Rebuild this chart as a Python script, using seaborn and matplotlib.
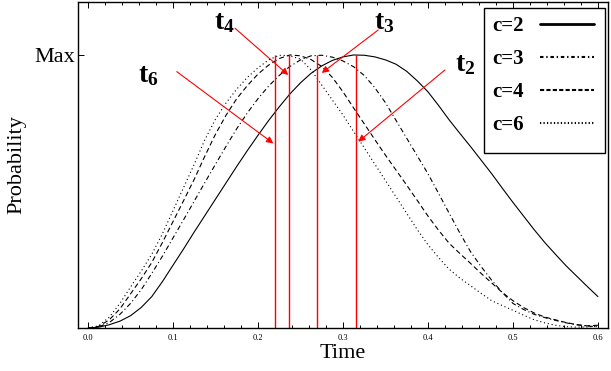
import matplotlib
matplotlib.use("Agg")
import matplotlib.pyplot as plt
from matplotlib.lines import Line2D
from matplotlib.patches import Rectangle
import seaborn as sns
import pandas as pd

# sampling times read along the axis
tempo = [0.0, 0.0125, 0.025, 0.0375, 0.05, 0.0625, 0.075, 0.0875, 0.1, 0.1125,
         0.125, 0.1375, 0.15, 0.1625, 0.175, 0.1875, 0.2, 0.2125, 0.225, 0.2375,
         0.25, 0.2625, 0.275, 0.2875, 0.3, 0.3125, 0.325, 0.3375, 0.35, 0.3625,
         0.375, 0.3875, 0.4, 0.4125, 0.425, 0.4375, 0.45, 0.4625, 0.475, 0.4875,
         0.5, 0.5125, 0.525, 0.5375, 0.55, 0.5625, 0.575, 0.5875, 0.6]

# probabilities (peak = 1 = "Max")
c2_p = [0, 0.003, 0.012, 0.025, 0.045, 0.075, 0.115, 0.17, 0.23, 0.29,
        0.352, 0.412, 0.472, 0.532, 0.592, 0.65, 0.706, 0.76, 0.81, 0.857,
        0.898, 0.933, 0.96, 0.98, 0.993, 1.0, 0.999, 0.993, 0.982, 0.966,
        0.94, 0.905, 0.865, 0.815, 0.762, 0.713, 0.665, 0.615, 0.565, 0.512,
        0.46, 0.41, 0.36, 0.313, 0.27, 0.228, 0.19, 0.152, 0.115]
c3_p = [0, 0.004, 0.02, 0.05, 0.09, 0.14, 0.2, 0.263, 0.33, 0.397,
        0.465, 0.533, 0.6, 0.666, 0.73, 0.788, 0.84, 0.886, 0.925, 0.958,
        0.982, 0.997, 0.999, 0.992, 0.978, 0.957, 0.925, 0.88, 0.825, 0.76,
        0.695, 0.63, 0.565, 0.493, 0.42, 0.348, 0.28, 0.225, 0.175, 0.13,
        0.09, 0.068, 0.05, 0.038, 0.028, 0.019, 0.012, 0.007, 0.005]
c4_p = [0, 0.006, 0.03, 0.07, 0.125, 0.18, 0.24, 0.313, 0.39, 0.467,
        0.545, 0.63, 0.71, 0.78, 0.84, 0.888, 0.93, 0.963, 0.987, 1.0,
        0.997, 0.983, 0.958, 0.918, 0.865, 0.806, 0.748, 0.69, 0.633, 0.578,
        0.523, 0.467, 0.41, 0.358, 0.31, 0.273, 0.237, 0.2, 0.165, 0.13,
        0.1, 0.075, 0.055, 0.04, 0.03, 0.02, 0.012, 0.008, 0.01]
c6_p = [0, 0.008, 0.04, 0.09, 0.15, 0.208, 0.27, 0.345, 0.43, 0.515,
        0.6, 0.69, 0.765, 0.825, 0.875, 0.918, 0.953, 0.982, 0.999, 0.997,
        0.985, 0.945, 0.89, 0.835, 0.78, 0.72, 0.66, 0.6, 0.54, 0.48,
        0.42, 0.36, 0.305, 0.258, 0.215, 0.183, 0.155, 0.127, 0.1, 0.082,
        0.065, 0.047, 0.03, 0.019, 0.01, 0.005, 0.003, 0.004, 0.006]

series_labels = ["c=2", "c=3", "c=4", "c=6"]

# times of the maxima (red lines)
peak_names = ["t_2", "t_3", "t_4", "t_6"]
peak_times = [0.3153, 0.2698, 0.2368, 0.2204]

sns.set_style("ticks")
plt.rcParams["font.family"] = ["Liberation Serif", "DejaVu Serif"]
plt.rcParams["mathtext.fontset"] = "custom"
plt.rcParams["mathtext.rm"] = "Liberation Serif"
plt.rcParams["mathtext.bf"] = "Liberation Serif:bold"
plt.rcParams["lines.scale_dashes"] = False
for k in ["text.color", "axes.labelcolor", "xtick.color", "ytick.color", "axes.edgecolor"]:
    plt.rcParams[k] = "black"

fig = plt.figure(figsize=(6.11, 3.71), dpi=100)
ax = fig.add_axes([0.1277, 0.1159, 0.8673, 0.8787])

estilos = {
    "c=2": "-",
    "c=3": (0, (3.5, 2.0, 0.8, 2.0)),
    "c=4": (0, (3.6, 2.2)),
    "c=6": (0, (0.8, 2.0)),
}
dados = {"c=2": c2_p, "c=3": c3_p, "c=4": c4_p, "c=6": c6_p}

for lab in series_labels:
    df = pd.DataFrame({"Time": tempo, "Prob": dados[lab]})
    sns.lineplot(data=df, x="Time", y="Prob", ax=ax, color="black", lw=0.8,
                 linestyle=estilos[lab], legend=False)

# vertical red lines at the maxima
ax.vlines(peak_times, 0, 1, color="red", lw=1.0)

# labels with arrows: (text pos, arrow start, arrow tip)
ann = {
    "t_6": ((0.0706, 0.925), (0.1044, 0.939), (0.2180, 0.676)),
    "t_4": ((0.160, 1.12), (0.1729, 1.098), (0.2356, 0.9267)),
    "t_3": ((0.349, 1.12), (0.3415, 1.0916), (0.2750, 0.9341)),
    "t_2": ((0.4435, 0.963), (0.4200, 0.9451), (0.3180, 0.6825)),
}
for nome, (txt, ini, fim) in ann.items():
    ax.annotate("", xy=fim, xytext=ini,
                arrowprops=dict(arrowstyle="-|>", color="red", lw=0.8,
                                mutation_scale=10, shrinkA=0, shrinkB=0))
    ax.text(txt[0], txt[1], r"$\mathbf{" + nome + "}$", fontsize=20,
            ha="center", va="center")

ax.set_xlim(-0.0118, 0.6118)
ax.set_ylim(0, 1.194)
ax.set_xticks([0.0, 0.1, 0.2, 0.3, 0.4, 0.5, 0.6])
ax.set_xticklabels(["0.0", "0.1", "0.2", "0.3", "0.4", "0.5", "0.6"], fontsize=6)
ax.set_xticks([i * 0.02 for i in range(31)], minor=True)
ax.set_yticks([1.0])
ax.set_yticklabels(["Max"], fontsize=16)
ax.tick_params(axis="both", which="both", direction="in", top=True, right=False,
               width=0.7, color="black")
ax.tick_params(axis="x", which="major", length=4, pad=4)
ax.tick_params(axis="x", which="minor", length=2)
ax.tick_params(axis="y", length=4, pad=2)
ax.set_xlabel("Time", fontsize=16, labelpad=2)
ax.set_ylabel("Probability", fontsize=16, labelpad=6)
for s in ax.spines.values():
    s.set_linewidth(1.0)
    s.set_color("black")

# legend box drawn by hand (it is taller than the entries need)
ax.add_patch(Rectangle((0.766, 0.537), 0.2283, 0.4446, transform=ax.transAxes,
                       facecolor="white", edgecolor="black", lw=1.0, zorder=4))
handles = [
    Line2D([], [], color="black", lw=2.0, linestyle="-"),
    Line2D([], [], color="black", lw=1.5, linestyle=(0, (2.5, 2.0, 1.0, 2.0))),
    Line2D([], [], color="black", lw=1.5, linestyle=(0, (3.0, 1.6))),
    Line2D([], [], color="black", lw=1.5, linestyle=(0, (0.9, 1.6))),
]
leg = ax.legend(handles, series_labels, loc="upper right",
                bbox_to_anchor=(0.985, 0.975), markerfirst=False, frameon=False,
                prop={"family": "Liberation Serif", "weight": "bold", "size": 15},
                handlelength=2.6, handletextpad=0.75, labelspacing=0.62,
                borderpad=0.3, borderaxespad=0)
leg.set_zorder(5)

fig.savefig("out.png", dpi=100)
